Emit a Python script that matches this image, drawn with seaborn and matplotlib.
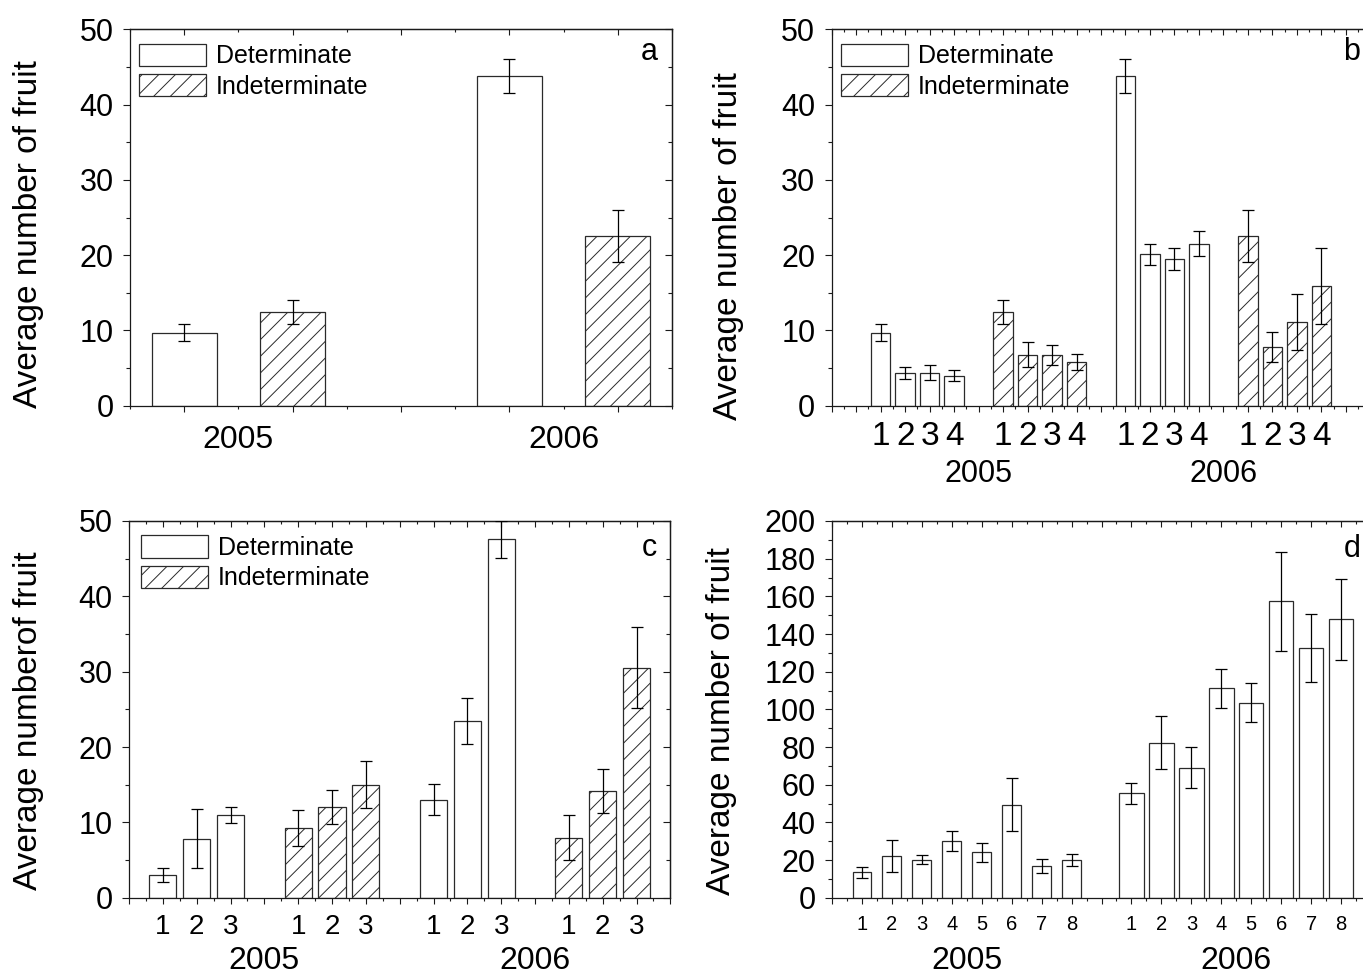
import numpy as np
import pandas as pd
import matplotlib
matplotlib.use("Agg")
import matplotlib.pyplot as plt
import seaborn as sns
from matplotlib.patches import Patch
from matplotlib.ticker import MultipleLocator, FixedLocator, NullFormatter

# ---------------- data ----------------
years = ["2005", "2006"]
types = ["Determinate", "Indeterminate"]

# panel a
a_det = [9.7, 43.8]
a_det_err = [1.1, 2.3]
a_ind = [12.5, 22.5]
a_ind_err = [1.6, 3.45]

# panel b (groups 1-4)
b_labels = ["1", "2", "3", "4"]
b_det_2005 = [9.7, 4.4, 4.4, 4.0]
b_det_2005_err = [1.1, 0.8, 0.95, 0.7]
b_ind_2005 = [12.5, 6.8, 6.7, 5.85]
b_ind_2005_err = [1.6, 1.6, 1.3, 1.05]
b_det_2006 = [43.8, 20.1, 19.5, 21.5]
b_det_2006_err = [2.3, 1.35, 1.5, 1.65]
b_ind_2006 = [22.5, 7.75, 11.1, 15.85]
b_ind_2006_err = [3.45, 2.0, 3.7, 5.05]

# panel c (groups 1-3)
c_labels = ["1", "2", "3"]
c_det_2005 = [3.0, 7.85, 11.0]
c_det_2005_err = [0.9, 3.9, 1.1]
c_ind_2005 = [9.3, 12.05, 15.0]
c_ind_2005_err = [2.4, 2.25, 3.1]
c_det_2006 = [13.0, 23.4, 47.55]
c_det_2006_err = [2.05, 3.05, 2.5]
c_ind_2006 = [8.0, 14.15, 30.55]
c_ind_2006_err = [3.05, 2.95, 5.4]

# panel d (1-8)
d_labels = ["1", "2", "3", "4", "5", "6", "7", "8"]
d_2005 = [13.5, 22.4, 20.2, 30.3, 24.1, 49.5, 17.0, 20.2]
d_2005_err = [3.1, 8.5, 2.45, 5.35, 5.15, 14.0, 3.85, 3.1]
d_2006 = [55.5, 82.3, 69.0, 111.3, 103.6, 157.4, 132.6, 147.8]
d_2006_err = [5.55, 14.1, 10.85, 10.4, 10.3, 26.35, 18.2, 21.65]

# ---------------- style ----------------
sns.set_theme(style="ticks")
plt.rcParams["font.family"] = ["Liberation Sans", "DejaVu Sans"]
plt.rcParams["hatch.linewidth"] = 0.7
plt.rcParams["hatch.color"] = "black"
plt.rcParams["text.color"] = "black"
plt.rcParams["axes.labelcolor"] = "black"
plt.rcParams["xtick.color"] = "black"
plt.rcParams["ytick.color"] = "black"
plt.rcParams["xtick.labelcolor"] = "black"
plt.rcParams["ytick.labelcolor"] = "black"

W, H = 1363, 974
fig = plt.figure(figsize=(W / 100, H / 100), dpi=100)


def axes_px(left, top, right, bottom):
    return fig.add_axes([left / W, 1 - bottom / H, (right - left) / W, (bottom - top) / H])


ax_a = axes_px(130, 29.3, 672, 405.7)
ax_b = axes_px(831.7, 29.3, 1370.3, 405.7)
ax_c = axes_px(129, 521, 670.4, 897.8)
ax_d = axes_px(832, 521, 1371, 897.8)

SPINE = "#1a1a1a"
EDGE = "#2a2a2a"


def style_axes(ax, xmaj, xmin, ymaj, ymin, ylim, xlim):
    ax.set_xlim(*xlim)
    ax.set_ylim(*ylim)
    for s in ax.spines.values():
        s.set_color(SPINE)
        s.set_linewidth(0.9)
    ax.xaxis.set_major_locator(xmaj)
    ax.xaxis.set_minor_locator(xmin)
    ax.yaxis.set_major_locator(MultipleLocator(ymaj))
    ax.yaxis.set_minor_locator(MultipleLocator(ymin))
    ax.tick_params(axis="y", which="major", direction="out", length=4.8, width=0.8,
                   color=SPINE, labelsize=22, pad=7, labelcolor="black")
    ax.tick_params(axis="y", which="minor", direction="out", length=2.9, width=0.8, color=SPINE)
    ax.tick_params(axis="x", which="major", direction="out", length=4.0, width=0.8,
                   color=SPINE, labelcolor="black")
    ax.tick_params(axis="x", which="minor", direction="out", length=2.4, width=0.8, color=SPINE)
    top = ax.secondary_xaxis("top")
    top.xaxis.set_major_locator(xmaj)
    top.xaxis.set_minor_locator(xmin)
    top.tick_params(which="major", direction="in", length=4.0, width=0.8, color=SPINE,
                    labeltop=False, labelbottom=False)
    top.tick_params(which="minor", direction="in", length=2.4, width=0.8, color=SPINE)
    top.spines["top"].set_color(SPINE)
    top.spines["top"].set_linewidth(0.9)
    right = ax.secondary_yaxis("right")
    right.yaxis.set_major_locator(MultipleLocator(ymaj))
    right.yaxis.set_minor_locator(MultipleLocator(ymin))
    right.tick_params(which="major", direction="in", length=4.8, width=0.8, color=SPINE,
                      labelright=False, labelleft=False)
    right.tick_params(which="minor", direction="in", length=2.9, width=0.8, color=SPINE)
    right.spines["right"].set_color(SPINE)
    right.spines["right"].set_linewidth(0.9)


def draw_bars(ax, pos, vals, errs, kinds, width):
    df = pd.DataFrame({"pos": pos, "val": vals, "kind": kinds})
    sns.barplot(data=df, x="pos", y="val", native_scale=True, width=width,
                color="white", saturation=1, edgecolor=EDGE, linewidth=0.9,
                errorbar=None, ax=ax, zorder=2)
    ind_pos = set(np.round(np.array(pos)[np.array(kinds) == "Indeterminate"], 3))
    for p in ax.patches:
        cx = round(p.get_x() + p.get_width() / 2, 3)
        if cx in ind_pos:
            p.set_hatch("//")
    ax.errorbar(pos, vals, yerr=errs, fmt="none", ecolor="black", elinewidth=0.9,
                capsize=4, capthick=0.9, zorder=3)


def add_legend(ax, anchor):
    handles = [Patch(facecolor="white", edgecolor=EDGE, linewidth=0.9, label=types[0]),
               Patch(facecolor="white", edgecolor=EDGE, linewidth=0.9, hatch="//", label=types[1])]
    ax.legend(handles=handles, loc="upper left", bbox_to_anchor=anchor, frameon=False,
              fontsize=18, handlelength=2.68, handleheight=1.0, handletextpad=0.4,
              borderpad=0, borderaxespad=0, labelspacing=0.22)


def year_labels(ax, xs, y, size):
    tr = ax.get_xaxis_transform()
    for xv, yr in zip(xs, years):
        ax.text(xv, y, yr, transform=tr, ha="center", va="baseline", fontsize=size)


# ---------------- panel a ----------------
pos_a = [1, 7, 3, 9]
draw_bars(ax_a, pos_a, a_det + a_ind, a_det_err + a_ind_err,
          ["Determinate"] * 2 + ["Indeterminate"] * 2, width=0.6)
style_axes(ax_a, FixedLocator([1, 3, 5, 7, 9]), FixedLocator([0, 2, 4, 6, 8, 10]),
           10, 5, (0, 50), (0, 10))
ax_a.xaxis.set_major_formatter(NullFormatter())
year_labels(ax_a, [2, 8], -0.1116, 23)
add_legend(ax_a, (0.017, 0.962))
ax_a.set_xlabel("")
ax_a.set_ylabel("Average number of fruit", fontsize=24)
ax_a.yaxis.set_label_coords(-0.159, 0.455)
ax_a.text(0.974, 0.918, "a", transform=ax_a.transAxes, ha="right", va="baseline", fontsize=22)

# ---------------- panel b ----------------
pos_b, vals_b, errs_b, kinds_b = [], [], [], []
for start, v, e, k in [(2, b_det_2005, b_det_2005_err, "Determinate"),
                       (7, b_ind_2005, b_ind_2005_err, "Indeterminate"),
                       (12, b_det_2006, b_det_2006_err, "Determinate"),
                       (17, b_ind_2006, b_ind_2006_err, "Indeterminate")]:
    pos_b += [start + i for i in range(len(v))]
    vals_b += v
    errs_b += e
    kinds_b += [k] * len(v)
draw_bars(ax_b, pos_b, vals_b, errs_b, kinds_b, width=0.8)
style_axes(ax_b, MultipleLocator(1), MultipleLocator(0.5), 10, 5, (0, 50), (0, 22))
lab_b = {p: b_labels[i % 4] for i, p in enumerate(pos_b)}
ax_b.set_xticks(range(0, 23), [lab_b.get(i, "") for i in range(0, 23)])
ax_b.tick_params(axis="x", which="major", labelsize=24, pad=6.8)
year_labels(ax_b, [6, 16], -0.202, 22)
add_legend(ax_b, (0.017, 0.962))
ax_b.set_xlabel("")
ax_b.set_ylabel("Average number of fruit", fontsize=24)
ax_b.yaxis.set_label_coords(-0.163, 0.425)
ax_b.text(0.981, 0.918, "b", transform=ax_b.transAxes, ha="right", va="baseline", fontsize=22)

# ---------------- panel c ----------------
pos_c, vals_c, errs_c, kinds_c = [], [], [], []
for start, v, e, k in [(1, c_det_2005, c_det_2005_err, "Determinate"),
                       (5, c_ind_2005, c_ind_2005_err, "Indeterminate"),
                       (9, c_det_2006, c_det_2006_err, "Determinate"),
                       (13, c_ind_2006, c_ind_2006_err, "Indeterminate")]:
    pos_c += [start + i for i in range(len(v))]
    vals_c += v
    errs_c += e
    kinds_c += [k] * len(v)
draw_bars(ax_c, pos_c, vals_c, errs_c, kinds_c, width=0.8)
style_axes(ax_c, MultipleLocator(1), MultipleLocator(0.5), 10, 5, (0, 50), (0, 16))
lab_c = {p: c_labels[i % 3] for i, p in enumerate(pos_c)}
ax_c.set_xticks(range(0, 17), [lab_c.get(i, "") for i in range(0, 17)])
ax_c.tick_params(axis="x", which="major", labelsize=20, pad=8)
year_labels(ax_c, [4, 12], -0.19, 23)
add_legend(ax_c, (0.022, 0.962))
ax_c.set_xlabel("")
ax_c.set_ylabel("Average numberof fruit", fontsize=24)
ax_c.yaxis.set_label_coords(-0.157, 0.47)
ax_c.text(0.976, 0.907, "c", transform=ax_c.transAxes, ha="right", va="baseline", fontsize=22)

# ---------------- panel d ----------------
pos_d05 = [1 + i for i in range(len(d_2005))]
pos_d06 = [10 + i for i in range(len(d_2006))]
draw_bars(ax_d, pos_d05, d_2005, d_2005_err, ["Determinate"] * len(d_2005), width=0.63)
draw_bars(ax_d, pos_d06, d_2006, d_2006_err, ["Determinate"] * len(d_2006), width=0.82)
style_axes(ax_d, MultipleLocator(1), MultipleLocator(0.5), 20, 10, (0, 200), (0, 18))
lab_d = {p: d_labels[i] for i, p in enumerate(pos_d05)}
lab_d.update({p: d_labels[i] for i, p in enumerate(pos_d06)})
ax_d.set_xticks(range(0, 19), [lab_d.get(i, "") for i in range(0, 19)])
ax_d.tick_params(axis="x", which="major", labelsize=14.5, pad=8.6)
year_labels(ax_d, [4.5, 13.5], -0.19, 23)
ax_d.set_xlabel("")
ax_d.set_ylabel("Average number of fruit", fontsize=24)
ax_d.yaxis.set_label_coords(-0.176, 0.47)
ax_d.text(0.98, 0.905, "d", transform=ax_d.transAxes, ha="right", va="baseline", fontsize=22)

fig.savefig("out.png", dpi=100)
